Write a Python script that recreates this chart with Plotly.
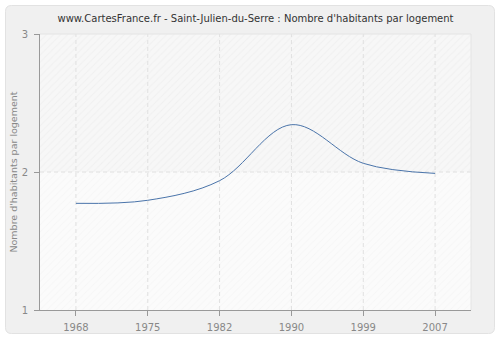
import plotly.graph_objects as go

# Census years and average number of inhabitants per dwelling
years = ["1968", "1975", "1982", "1990", "1999", "2007"]
habitants_par_logement = [1.773, 1.795, 1.937, 2.343, 2.063, 1.99]

title = "www.CartesFrance.fr - Saint-Julien-du-Serre : Nombre d'habitants par logement"
y_title = "Nombre d'habitants par logement"
y_ticks = [1, 2, 3]

W, H = 500, 340
ML, MR, MT, MB = 40, 29, 34, 30
PW, PH = W - ML - MR, H - MT - MB

idx = list(range(len(years)))
x_lo, x_hi = -0.5, len(years) - 0.5
y_lo, y_hi = y_ticks[0], y_ticks[-1]

fig = go.Figure()

# hatched background bands of the plotting area
band_style = [
    (y_lo, 2, "#f1f1f1", "#fbfbfb"),
    (2, y_hi, "#e9e9e9", "#f7f7f7"),
]
for b0, b1, fg, bg in band_style:
    fig.add_trace(go.Scatter(
        x=[x_lo, x_hi, x_hi, x_lo, x_lo], y=[b0, b0, b1, b1, b0],
        fill="toself", mode="none", hoverinfo="skip", showlegend=False,
        fillpattern=dict(shape="/", fgcolor=fg, bgcolor=bg, size=5, solidity=0.2),
    ))

# dashed grid drawn on top of the hatching
gx, gy = [], []
for i in idx:
    gx += [i, i, None]
    gy += [y_lo, y_hi, None]
for v in y_ticks[1:-1]:
    gx += [x_lo, x_hi, None]
    gy += [v, v, None]
fig.add_trace(go.Scatter(
    x=gx, y=gy, mode="lines", hoverinfo="skip", showlegend=False,
    line=dict(color="#e0e0e0", width=1, dash="4px,3px"),
))

fig.add_trace(go.Scatter(
    x=idx, y=habitants_par_logement, mode="lines",
    line=dict(color="#4a74aa", width=1, shape="spline", smoothing=1.0),
    showlegend=False,
))

# rounded light-grey frame around the whole chart
def px_x(p):
    return (p - ML) / PW

def px_y(p):
    return 1 - (p - MT) / PH

x0, x1, y0, y1, r = 5.5, 494.5, 5.5, 333.5, 6
path = (
    f"M {px_x(x0 + r)} {px_y(y0)} L {px_x(x1 - r)} {px_y(y0)} "
    f"Q {px_x(x1)} {px_y(y0)} {px_x(x1)} {px_y(y0 + r)} "
    f"L {px_x(x1)} {px_y(y1 - r)} Q {px_x(x1)} {px_y(y1)} {px_x(x1 - r)} {px_y(y1)} "
    f"L {px_x(x0 + r)} {px_y(y1)} Q {px_x(x0)} {px_y(y1)} {px_x(x0)} {px_y(y1 - r)} "
    f"L {px_x(x0)} {px_y(y0 + r)} Q {px_x(x0)} {px_y(y0)} {px_x(x0 + r)} {px_y(y0)} Z"
)
fig.add_shape(type="path", xref="paper", yref="paper", layer="below", path=path,
              fillcolor="#f0f0f0", line=dict(color="#e2e2e2", width=1))
# light border along the top and right of the plotting area
fig.add_shape(type="line", xref="paper", yref="paper", layer="above",
              x0=0, x1=1, y0=1, y1=1, line=dict(color="#e4e4e4", width=1))
fig.add_shape(type="line", xref="paper", yref="paper", layer="above",
              x0=1, x1=1, y0=0, y1=1, line=dict(color="#e4e4e4", width=1))

fig.update_layout(
    width=W, height=H,
    margin=dict(l=ML, r=MR, t=MT, b=MB, autoexpand=False),
    paper_bgcolor="white",
    plot_bgcolor="#f8f8f8",
    font=dict(family="DejaVu Sans, Verdana, sans-serif", size=10, color="#888888"),
    title=dict(text=title, x=0.5, xanchor="center", xref="paper",
               y=1 - 18 / H, yanchor="middle",
               font=dict(size=10, color="#333333")),
)

fig.update_xaxes(
    range=[x_lo, x_hi], tickvals=idx, ticktext=years,
    showgrid=False, automargin=False,
    showline=True, linecolor="#999999", linewidth=1,
    ticks="outside", ticklen=5, tickcolor="#999999", ticklabelstandoff=3,
    tickfont=dict(size=10, color="#888888"),
    zeroline=False, fixedrange=True,
)
fig.update_yaxes(
    range=[y_lo, y_hi], tickvals=y_ticks, automargin=False,
    title=dict(text=y_title, standoff=2, font=dict(size=9.5, color="#888888")),
    showgrid=False,
    showline=True, linecolor="#999999", linewidth=1,
    ticks="outside", ticklen=5, tickcolor="#999999", ticklabelstandoff=4,
    tickfont=dict(size=10, color="#888888"),
    zeroline=False, fixedrange=True,
)

fig.write_html("out.html")
